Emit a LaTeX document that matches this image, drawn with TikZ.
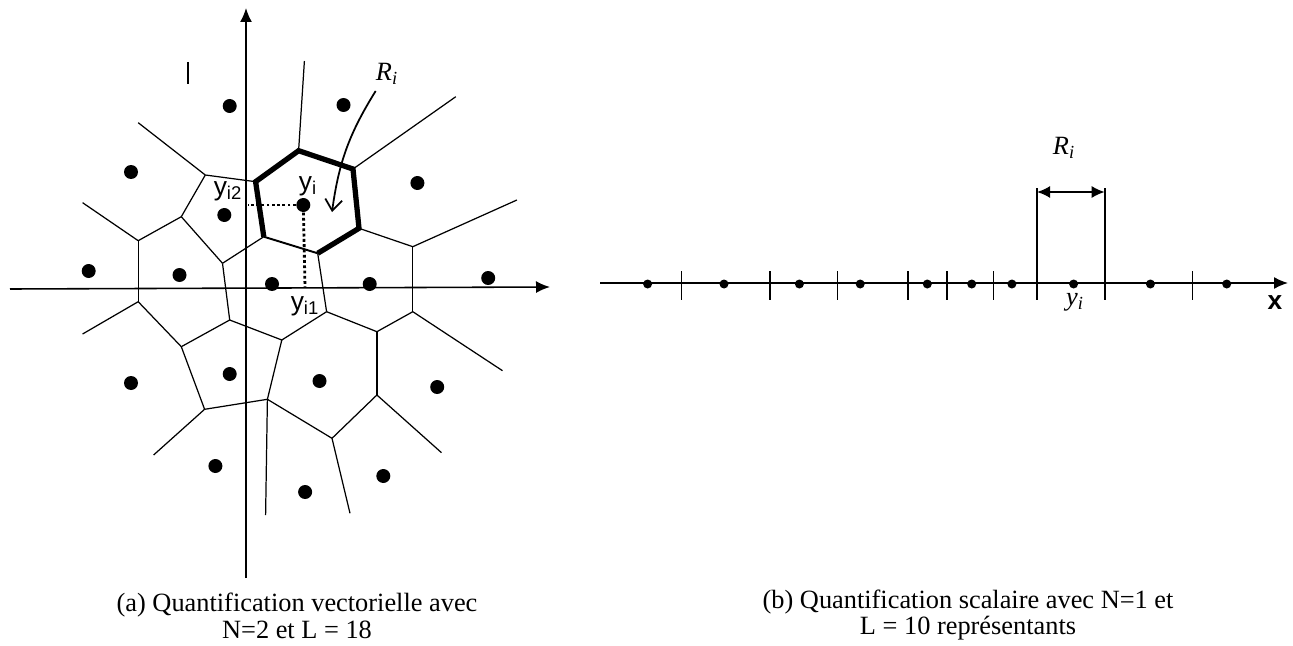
\documentclass[tikz,border=0pt]{standalone}
\usepackage{fontspec}
\setmainfont{Liberation Serif}
\newfontfamily\arialfont{Liberation Sans}
\usetikzlibrary{arrows.meta}

\begin{document}
\begin{tikzpicture}[x=0.02cm,y=-0.02cm,line width=0.7pt,font=\fontsize{15}{15.3}\selectfont]
\useasboundingbox (0,0) rectangle (1293,645);
\tikzset{tip/.style={-{Latex[length=0.28cm,width=0.24cm]}}}
\begin{scope}[every node/.style={circle,fill,inner sep=0pt,minimum size=0.28cm}]
\node (A1) at (229.7,106) {};
\node (A2) at (343.5,105) {};
\node (A3) at (131,172) {};
\node (A4) at (417.4,183) {};
\node (A5) at (224.3,215) {};
\node (Yi) at (303.3,205) {};
\node (A6) at (88.7,271) {};
\node (A7) at (179.5,275) {};
\node (A8) at (272,284) {};
\node (A9) at (369.7,284) {};
\node (A10) at (488.2,278) {};
\node (A11) at (131,383) {};
\node (A12) at (229.7,374) {};
\node (A13) at (319.5,381) {};
\node (A14) at (437.2,387) {};
\node (A15) at (215.4,466) {};
\node (A16) at (305.1,492) {};
\node (A17) at (383.3,476) {};
\end{scope}
\coordinate (V1) at (298.6,150.7);
\coordinate (V2) at (353,169);
\coordinate (V3) at (359,228.3);
\coordinate (V4) at (317.7,253.3);
\coordinate (V5) at (263.8,236.7);
\coordinate (V6) at (255.6,181.7);
\coordinate (V7) at (205.3,175);
\coordinate (V8) at (181.3,216.7);
\coordinate (V9) at (138.2,240.7);
\coordinate (V10) at (222.5,263.3);
\coordinate (V11) at (138.2,301.7);
\coordinate (V12) at (229.7,320);
\coordinate (V13) at (326.6,311.7);
\coordinate (V14) at (412.8,246.7);
\coordinate (V15) at (412.8,311.7);
\coordinate (V16) at (181.3,346.7);
\coordinate (V17) at (281.8,340);
\coordinate (V18) at (376.9,331.7);
\coordinate (V19) at (376.9,395);
\coordinate (V20) at (204.6,409.3);
\coordinate (V21) at (267.4,399.3);
\coordinate (V22) at (332,438.3);
\coordinate (E1) at (304.4,61);
\coordinate (E2) at (455.8,96.7);
\coordinate (E3) at (138.2,122.7);
\coordinate (E4) at (82.6,202.7);
\coordinate (E5) at (516.9,200);
\coordinate (E6) at (82.6,334);
\coordinate (E7) at (502.5,370.7);
\coordinate (E8) at (153.6,455);
\coordinate (E9) at (265.6,515);
\coordinate (E10) at (350,513.3);
\coordinate (E11) at (441.5,452.7);
\draw (V1) edge (E1);
\draw (V2) edge (E2);
\draw (V7) edge (E3) edge (V6) edge (V8);
\draw (V8) edge (V9) edge (V10);
\draw (V9) edge (E4) edge (V11);
\draw (V10) edge (V5) edge (V12);
\draw (V4) edge (V13);
\draw (V3) edge (V14);
\draw (V14) edge (E5) edge (V15);
\draw (V11) edge (E6) edge (V16);
\draw (V12) edge (V16) edge (V17);
\draw (V13) edge (V17) edge (V18);
\draw (V15) edge (V18) edge (E7);
\draw (V18) edge (V19);
\draw (V17) edge (V21);
\draw (V16) edge (V20);
\draw (V20) edge (V21) edge (E8);
\draw (V21) edge (E9) edge (V22);
\draw (V19) edge (V22) edge (E11);
\draw (V22) edge (E10);
\draw [line width=3pt, line join=miter] (V5) -- (V6) -- (V1) -- (V2) -- (V3) -- (V4);
\draw [line width=1.1pt] (V4) -- (V5);
\coordinate (O1) at (10,289);
\coordinate (X1) at (550,287);
\coordinate (O2) at (246,578);
\coordinate (Y1) at (246,8);
\draw [tip, line width=0.9pt] (O1) -- (X1);
\draw [tip, line width=0.9pt] (O2) -- (Y1);
\draw (188,62) -- (188,84);
\coordinate (P2) at (248,205);
\coordinate (P1) at (305,287);
\draw [line width=1.6pt, dash pattern=on 1.6pt off 1.4pt] (Yi) -- (P2);
\draw [line width=1.6pt, dash pattern=on 1.6pt off 1.4pt] (Yi) -- (P1);
\node (L2) at (228,191) {\arialfont y\textsubscript{i2}};
\node (L0) at (308,186) {\arialfont y\textsubscript{i}};
\node (L1) at (305,306) {\arialfont y\textsubscript{i1}};
\node (Ra) at (387,74) {\itshape R\textsubscript{i}};
\coordinate (Re) at (332,212);
\draw [-{Straight Barb[length=0.22cm,width=0.34cm]}, line width=1pt] (Ra) to[bend right=12] (Re);
\node (Ca) at (297,616) [align=center] {(a) Quantification vectorielle avec\\N=2 et L = 18};
\begin{scope}[every node/.style={circle,fill,inner sep=0pt,minimum size=0.18cm}]
\node (B1) at (647.6,284) {};
\node (B2) at (724,284) {};
\node (B3) at (799.4,284) {};
\node (B4) at (860.2,284) {};
\node (B5) at (927.3,284) {};
\node (B6) at (971.7,284) {};
\node (B7) at (1011.9,284) {};
\node (Yb) at (1073.6,284) {};
\node (B8) at (1150.4,284) {};
\node (B9) at (1226.7,284) {};
\end{scope}
\coordinate (S0) at (600,283);
\coordinate (S1) at (1288,283);
\draw [tip, line width=0.9pt] (S0) -- (S1);
\draw [line width=0.9pt] (681.5,271) -- (681.5,300) (769.7,271) -- (769.7,300) (837.3,271) -- (837.3,300)
  (907.7,271) -- (907.7,300) (947,271) -- (947,300) (993.6,271) -- (993.6,300) (1192.4,271) -- (1192.4,300);
\coordinate (T1) at (1037,192);
\coordinate (T2) at (1104.7,192);
\draw [line width=1pt] (1037,188) -- (1037,300) (1104.7,188) -- (1104.7,300);
\draw [{Latex[length=0.26cm,width=0.24cm]}-{Latex[length=0.26cm,width=0.24cm]}, line width=1pt] (T1) -- (T2);
\node (Rb) at (1064,148) {\itshape R\textsubscript{i}};
\node (yb) at (1075,302) {\itshape y\textsubscript{i}};
\node (xb) at (1275,303) {\arialfont\bfseries x};
\node (Cb) at (968,615) [align=center] {(b) Quantification scalaire avec N=1 et\\L = 10 représentants};
\end{tikzpicture}
\end{document}
